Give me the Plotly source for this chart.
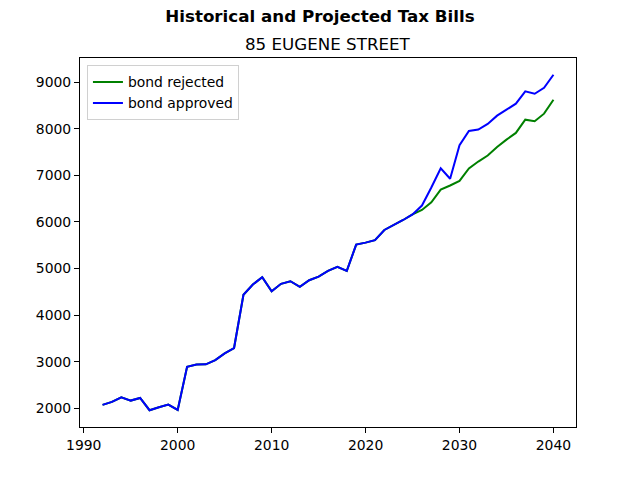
import plotly.graph_objects as go

# years and tax bills
anos = list(range(1992, 2041))

historico = [2071, 2135, 2235, 2164, 2221, 1957, 2021, 2079, 1964, 2890,
             2938, 2942, 3034, 3178, 3292, 4434, 4655, 4811, 4511, 4670,
             4725, 4605, 4747, 4826, 4948, 5034, 4948, 5511, 5554, 5608,
             5826, 5925, 6040, 6160]

proj_rejeitado = [6255, 6420, 6692, 6780, 6878, 7145, 7294, 7423, 7609, 7765,
                  7909, 8194, 8159, 8322, 8622]

proj_aprovado = [6350, 6738, 7150, 6925, 7645, 7952, 7980, 8101, 8280, 8408,
                 8537, 8801, 8750, 8879, 9157]

rejeitado = historico + proj_rejeitado
aprovado = historico + proj_aprovado

fonte = "DejaVu Sans, Liberation Sans, sans-serif"

fig = go.Figure()

fig.add_trace(go.Scatter(x=anos, y=rejeitado, mode="lines",
                         name="bond rejected",
                         line=dict(color="green", width=2)))

fig.add_trace(go.Scatter(x=anos, y=aprovado, mode="lines",
                         name="bond approved",
                         line=dict(color="blue", width=2)))

eixo = dict(showgrid=False, zeroline=False, showline=True, linecolor="black",
            linewidth=1, mirror=True, ticks="outside", ticklen=5,
            tickcolor="black", tickfont=dict(size=13.9, color="black"))

fig.update_xaxes(range=[1989.6, 2042.4], tickvals=[1990, 2000, 2010, 2020, 2030, 2040],
                 **eixo)
fig.update_yaxes(range=[1597, 9517], tickvals=list(range(2000, 9001, 1000)),
                 **eixo)

fig.update_layout(
    width=640, height=480,
    margin=dict(l=80, r=64, t=58, b=53),
    paper_bgcolor="white", plot_bgcolor="white",
    font=dict(family=fonte, color="black"),
    title=dict(text="<b>Historical and Projected Tax Bills</b>",
               x=0.5, xref="container", y=1 - 16 / 480, yref="container",
               yanchor="middle", xanchor="center",
               font=dict(size=16.7, color="black")),
    annotations=[dict(text="85 EUGENE STREET", x=0.5, y=1, xref="paper",
                      yref="paper", xanchor="center", yanchor="middle",
                      yshift=14, showarrow=False,
                      font=dict(size=16.7, color="black"))],
    legend=dict(x=0.014, y=0.98, xanchor="left", yanchor="top",
                bgcolor="rgba(255,255,255,0.8)", bordercolor="#d0d0d0",
                borderwidth=1, font=dict(size=13.9, color="black"),
                itemwidth=30, tracegroupgap=0),
    showlegend=True,
)

# tira a margem de 8px do body para o grafico ficar no canto da janela
fig.write_html("out.html", config={"displayModeBar": False},
               post_script="document.body.style.margin='0px';")
